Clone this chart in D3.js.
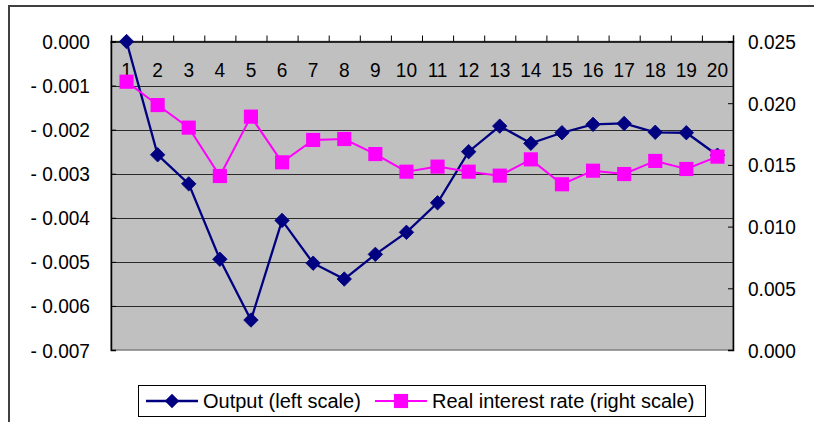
<!DOCTYPE html>
<html>
<head>
<meta charset="utf-8">
<script src="https://cdn.jsdelivr.net/npm/d3@7"></script>
<style>
  html, body { margin: 0; padding: 0; background: #fff; }
  svg { display: block; }
  text { font-family: "Liberation Sans", Arial, sans-serif; fill: #000; }
</style>
</head>
<body>
<svg id="chart" width="814" height="422"></svg>
<script>
const categories = d3.range(1, 21).map(String);
const outputValues = [0.0000, -0.00257, -0.00323, -0.00494, -0.00632, -0.00406, -0.00503, -0.00539, -0.00483, -0.00433,
                      -0.00366, -0.00250, -0.00192, -0.00231, -0.00207, -0.00188, -0.00186, -0.00206, -0.00207, -0.00258];
const rateValues = [0.02174, 0.01985, 0.01802, 0.01410, 0.01891, 0.01521, 0.01702, 0.01710, 0.01588, 0.01445,
                    0.01486, 0.01445, 0.01413, 0.01545, 0.01343, 0.01453, 0.01426, 0.01532, 0.01467, 0.01567];
const leftTicks = [0, -0.001, -0.002, -0.003, -0.004, -0.005, -0.006, -0.007];
const rightTicks = [0.025, 0.020, 0.015, 0.010, 0.005, 0.000];
const seriesNames = ["Output (left scale)", "Real interest rate (right scale)"];

const svg = d3.select("#chart");
const L = 111, R = 733, T = 41.5, B = 350;
const SX = 0.91, FS = 21;

// outer frame
svg.append("rect").attr("x", 9).attr("y", 6).attr("width", 830).attr("height", 440)
  .attr("fill", "#fff").attr("stroke", "#404040").attr("stroke-width", 2);

const xBand = d3.scaleBand().domain(categories).range([L, R]).padding(0);
const xEdge = d3.scaleLinear().domain([0, categories.length]).range([L, R]);
const yL = d3.scaleLinear().domain([-0.007, 0]).range([B, T]);
const yR = d3.scaleLinear().domain([0, 0.025]).range([B, T]);

// plot area
svg.append("rect").attr("x", L).attr("y", T).attr("width", R - L).attr("height", B - T)
  .attr("fill", "#C0C0C0").attr("stroke", "#808080").attr("stroke-width", 1.5);

// gridlines
svg.append("g").selectAll("line").data(leftTicks.filter(d => d !== 0 && d !== -0.007)).join("line")
  .attr("x1", L).attr("x2", R).attr("y1", d => Math.round(yL(d)) + 0.5).attr("y2", d => Math.round(yL(d)) + 0.5)
  .attr("stroke", "#2a2a2a").attr("stroke-width", 1);

// left axis
const fmtL = d => d === 0 ? "0.000" : "- " + d3.format(".3f")(-d);
const gL = svg.append("g").attr("transform", `translate(${L},0)`)
  .call(d3.axisLeft(yL).tickValues(leftTicks).tickSize(-5).tickFormat(""));
gL.select(".domain").attr("stroke", "#000").attr("stroke-width", 1.5);
gL.selectAll(".tick line").attr("stroke", "#000");
svg.append("g").selectAll("text").data(leftTicks).join("text")
  .attr("transform", d => `translate(90,${yL(d)}) scale(${SX},1)`)
  .attr("text-anchor", "end").attr("dy", "0.36em").attr("font-size", FS).text(fmtL);

// right axis
const fmtR = d3.format(".3f");
const gR = svg.append("g").attr("transform", `translate(${R},0)`)
  .call(d3.axisRight(yR).tickValues(rightTicks).tickSize(-5).tickFormat(""));
gR.select(".domain").attr("stroke", "#000").attr("stroke-width", 1.5);
gR.selectAll(".tick line").attr("stroke", "#000");
svg.append("g").selectAll("text").data(rightTicks).join("text")
  .attr("transform", d => `translate(748,${yR(d)}) scale(${SX},1)`)
  .attr("text-anchor", "start").attr("dy", "0.36em").attr("font-size", FS).text(fmtR);

// category axis (at top, y=0)
const gX = svg.append("g").attr("transform", `translate(0,${T})`)
  .call(d3.axisTop(xEdge).tickValues(d3.range(0, categories.length + 1)).tickSize(6).tickFormat(""));
gX.select(".domain").attr("stroke", "#000").attr("stroke-width", 1.5);
gX.selectAll(".tick line").attr("stroke", "#000");

svg.append("g").selectAll("text").data(categories).join("text")
  .attr("transform", d => `translate(${xBand(d) + xBand.bandwidth() / 2},76.5) scale(${SX},1)`)
  .attr("text-anchor", "middle").attr("font-size", FS).text(d => d);

// series
const lineOut = d3.line().x((d, i) => xBand(categories[i]) + xBand.bandwidth() / 2).y(d => yL(d));
const lineRate = d3.line().x((d, i) => xBand(categories[i]) + xBand.bandwidth() / 2).y(d => yR(d));

svg.append("path").datum(outputValues).attr("d", lineOut)
  .attr("fill", "none").attr("stroke", "#000080").attr("stroke-width", 2.3);
const diamond = d3.symbol(d3.symbolSquare, 104);
svg.append("g").selectAll("path").data(outputValues).join("path")
  .attr("d", diamond)
  .attr("transform", (d, i) => `translate(${xBand(categories[i]) + xBand.bandwidth() / 2},${yL(d)}) rotate(45)`)
  .attr("fill", "#000080").attr("stroke", "#000080").attr("stroke-width", 0.8);

svg.append("path").datum(rateValues).attr("d", lineRate)
  .attr("fill", "none").attr("stroke", "#FF00FF").attr("stroke-width", 2);
const square = d3.symbol(d3.symbolSquare, 200);
svg.append("g").selectAll("path").data(rateValues).join("path")
  .attr("d", square)
  .attr("transform", (d, i) => `translate(${xBand(categories[i]) + xBand.bandwidth() / 2},${yR(d)})`)
  .attr("fill", "#FF00FF");

// legend
const lg = svg.append("g");
lg.append("rect").attr("x", 138.5).attr("y", 385.5).attr("width", 567).attr("height", 31)
  .attr("fill", "#fff").attr("stroke", "#000").attr("stroke-width", 1);
const ly = 401;
lg.append("line").attr("x1", 146).attr("x2", 198).attr("y1", ly).attr("y2", ly)
  .attr("stroke", "#000080").attr("stroke-width", 2.3);
lg.append("path").attr("d", diamond).attr("transform", `translate(172,${ly}) rotate(45)`)
  .attr("fill", "#000080");
lg.append("text").attr("x", 203).attr("y", 408).attr("font-size", 20).text(seriesNames[0]);
lg.append("line").attr("x1", 375).attr("x2", 427).attr("y1", ly).attr("y2", ly)
  .attr("stroke", "#FF00FF").attr("stroke-width", 2);
lg.append("path").attr("d", square).attr("transform", `translate(401,${ly})`).attr("fill", "#FF00FF");
lg.append("text").attr("x", 432).attr("y", 408).attr("font-size", 20).text(seriesNames[1]);
</script>
</body>
</html>
